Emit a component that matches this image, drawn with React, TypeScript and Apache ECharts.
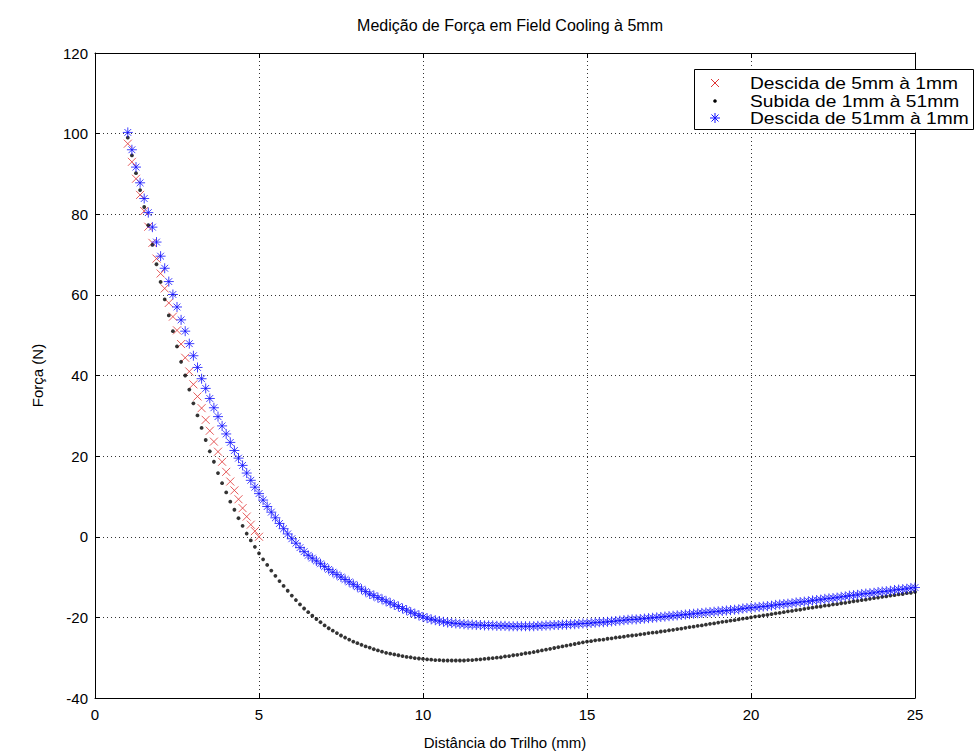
import React, { useEffect, useRef } from "react";
import * as echarts from "echarts";

// ---- Data ----
const TITLE = "Medição de Força em Field Cooling à 5mm";
const X_NAME = "Distância do Trilho (mm)";
const Y_NAME = "Força (N)";
const LEGEND_NAMES = ["Descida de 5mm à 1mm", "Subida de 1mm à 51mm", "Descida de 51mm à 1mm"];

const STEP = 0.125; // spacing of the measurements (mm)
const START = 1.0;  // first measurement position (mm)

// Descida de 5mm à 1mm : x = 1.0 .. 5.0
const redValues = [
  97.5, 93.0, 88.8, 84.8, 80.8, 76.9, 72.9, 69.0, 65.3, 61.6, 58.0, 54.6, 51.2, 47.8, 44.4, 41.0,
  37.8, 34.8, 31.9, 29.0, 26.3, 23.6, 21.1, 18.6, 16.1, 13.7, 11.5, 9.3, 7.1, 5.0, 3.0, 1.4, 0.0,
];

// Subida de 1mm à 51mm : x = 1.0 .. 25.0
const blackA = [
  99.0, 94.6, 90.2, 86.0, 81.8, 77.3, 72.4, 67.6, 63.2, 58.9, 54.9, 51.0, 47.2, 43.4, 40.0, 36.5,
  33.1, 30.1, 27.0, 24.0, 21.2, 18.6, 15.8, 13.3, 11.0, 8.7, 6.7, 4.6, 2.7, 0.8, -0.9, -2.5, -4.1,
];
const blackB = [
  -5.6, -7.0, -8.4, -9.7, -11.0, -12.2, -13.4, -14.6, -15.7, -16.8, -17.8, -18.7, -19.6, -20.4,
  -21.2, -22.0, -22.7, -23.3, -23.9, -24.5, -25.0, -25.5, -26.0, -26.4, -26.8, -27.2, -27.5, -27.9,
  -28.2, -28.5, -28.8, -29.0, -29.2, -29.4, -29.6, -29.8, -29.9, -30.1, -30.2, -30.3,
];
const blackC = [
  -30.4, -30.5, -30.6, -30.6, -30.7, -30.7, -30.7, -30.7, -30.7, -30.7, -30.6, -30.6, -30.5, -30.4,
  -30.3, -30.2, -30.1, -30.0, -29.9, -29.7, -29.6, -29.4, -29.3, -29.1, -28.9, -28.8, -28.6, -28.4,
  -28.2, -28.0, -27.8, -27.6, -27.4, -27.2, -27.0, -26.8, -26.6, -26.4, -26.2, -26.0,
];
const blackD = [
  -25.9, -25.7, -25.6, -25.5, -25.3, -25.2, -25.0, -24.9,
  -24.8, -24.6, -24.5, -24.4, -24.2, -24.1, -23.9, -23.8,
  -23.7, -23.5, -23.4, -23.2, -23.1, -22.9, -22.8, -22.6,
  -22.4, -22.3, -22.1, -22.0, -21.8, -21.6, -21.5, -21.3,
  -21.1, -21.0, -20.8, -20.7, -20.5, -20.3, -20.2, -20.0,
  -19.8, -19.7, -19.5, -19.4, -19.2, -19.0, -18.9, -18.7,
  -18.5, -18.4, -18.2, -18.1, -17.9, -17.7, -17.6, -17.4,
  -17.3, -17.1, -17.0, -16.8, -16.7, -16.5, -16.4, -16.2,
  -16.0, -15.9, -15.7, -15.6, -15.4, -15.2, -15.1, -14.9,
  -14.8, -14.6, -14.5, -14.3, -14.2, -14.0, -13.9, -13.7,
];

// Descida de 51mm à 1mm : x = 1.0 .. 25.0
const blueA = [
  100.3, 96.0, 91.7, 87.8, 83.9, 80.4, 76.8, 73.1, 69.6, 66.6, 63.3, 60.1, 57.0, 53.8, 51.0, 47.9,
  44.9, 42.0, 39.2, 36.8, 34.3, 32.0, 29.8, 27.5, 25.5, 23.4, 21.4, 19.5, 17.7, 15.8, 14.0, 12.3, 10.7,
];
const blueB = [
  9.1, 7.5, 6.1, 4.7, 3.3, 2.0, 0.7, -0.5, -1.6, -2.7, -3.7, -4.6, -5.3, -6.0, -6.7, -7.4, -8.1,
  -8.8, -9.4, -10.0, -10.6, -11.2, -11.8, -12.4, -13.0, -13.6, -14.2, -14.6, -15.1, -15.5, -16.0,
  -16.4, -16.9, -17.3, -17.8, -18.2, -18.7, -19.1, -19.5, -19.9,
];
const blueC = [
  -20.2, -20.5, -20.7, -20.9, -21.1, -21.3, -21.4, -21.5, -21.6, -21.7, -21.8, -21.8, -21.9, -21.9,
  -22.0, -22.0, -22.0, -22.1, -22.1, -22.1, -22.2, -22.2, -22.2, -22.2, -22.2, -22.2, -22.2, -22.1,
  -22.1, -22.0, -22.0, -21.9, -21.9, -21.8, -21.8, -21.7, -21.7, -21.6, -21.5, -21.5,
];
const blueD = [
  -21.4, -21.3, -21.2, -21.2, -21.1, -21.0, -20.9, -20.8,
  -20.7, -20.6, -20.5, -20.5, -20.4, -20.3, -20.2, -20.1,
  -20.0, -19.9, -19.8, -19.7, -19.6, -19.5, -19.4, -19.3,
  -19.2, -19.1, -19.0, -18.9, -18.8, -18.7, -18.6, -18.5,
  -18.4, -18.3, -18.2, -18.1, -18.0, -17.8, -17.7, -17.6,
  -17.5, -17.4, -17.3, -17.2, -17.1, -16.9, -16.8, -16.7,
  -16.6, -16.5, -16.3, -16.2, -16.1, -16.0, -15.8, -15.7,
  -15.6, -15.4, -15.3, -15.2, -15.1, -14.9, -14.8, -14.6,
  -14.5, -14.4, -14.2, -14.1, -14.0, -13.9, -13.7, -13.6,
  -13.5, -13.4, -13.2, -13.1, -13.0, -12.9, -12.7, -12.6,
];

const X_MIN = 0, X_MAX = 25, X_INT = 5;
const Y_MIN = -40, Y_MAX = 120, Y_INT = 20;

const toPairs = (vals: number[]) => vals.map((v, i) => [+(START + i * STEP).toFixed(3), v]);

const FONT = "'Liberation Sans', Arial, Helvetica, sans-serif";
const X_PATH = "path://M0,0L10,10M10,0L0,10";
const STAR_PATH = "path://M5,0L5,10M0,5L10,5M1.6,1.6L8.4,8.4M8.4,1.6L1.6,8.4";
const RED = "#e03434";
const BLUE = "#1010ff";

export default function App() {
  const ref = useRef<HTMLDivElement>(null);
  useEffect(() => {
    document.body.style.margin = "0";
    const chart = echarts.init(ref.current!, undefined, { renderer: "svg" });
    const L = 95, T = 53, R = 915, B = 701;
    const axisBase = {
      type: "value" as const,
      axisLine: { show: true, onZero: false, lineStyle: { color: "#000", width: 1 } },
      axisTick: { show: true, inside: true, length: 5, lineStyle: { color: "#000" } },
    };
    const label = { color: "#000", fontSize: 15, fontFamily: FONT };
    const split = { show: true, lineStyle: { color: "#333", type: [1, 3] as any, width: 1 } };

    const lx = 694, ly = 69, lw = 279, lh = 60;
    const mx = 715, tx = 750;
    const rows = [83, 101, 118];
    const legend: any[] = [
      { type: "rect", shape: { x: lx + 0.5, y: ly + 0.5, width: lw, height: lh }, style: { fill: "#fff", stroke: "#000", lineWidth: 1 }, z: 100 },
      { type: "line", shape: { x1: mx - 4, y1: rows[0] - 4, x2: mx + 4, y2: rows[0] + 4 }, style: { stroke: RED, lineWidth: 1 }, z: 101 },
      { type: "line", shape: { x1: mx + 4, y1: rows[0] - 4, x2: mx - 4, y2: rows[0] + 4 }, style: { stroke: RED, lineWidth: 1 }, z: 101 },
      { type: "circle", shape: { cx: mx, cy: rows[1], r: 1.8 }, style: { fill: "#000" }, z: 101 },
      { type: "line", shape: { x1: mx, y1: rows[2] - 5, x2: mx, y2: rows[2] + 5 }, style: { stroke: BLUE, lineWidth: 1 }, z: 101 },
      { type: "line", shape: { x1: mx - 5, y1: rows[2], x2: mx + 5, y2: rows[2] }, style: { stroke: BLUE, lineWidth: 1 }, z: 101 },
      { type: "line", shape: { x1: mx - 3.5, y1: rows[2] - 3.5, x2: mx + 3.5, y2: rows[2] + 3.5 }, style: { stroke: BLUE, lineWidth: 1 }, z: 101 },
      { type: "line", shape: { x1: mx + 3.5, y1: rows[2] - 3.5, x2: mx - 3.5, y2: rows[2] + 3.5 }, style: { stroke: BLUE, lineWidth: 1 }, z: 101 },
      ...LEGEND_NAMES.map((n, i) => ({
        type: "text", x: tx, y: rows[i], z: 101, scaleX: 1.13,
        style: { text: n, fill: "#000", font: `17px ${FONT}`, verticalAlign: "middle", align: "left" },
      })),
    ];

    chart.setOption({
      animation: false,
      backgroundColor: "#fff",
      title: {
        text: TITLE, left: (L + R) / 2, top: 12, textAlign: "center",
        textStyle: { fontSize: 16, fontWeight: "normal", color: "#000", fontFamily: FONT },
      },
      grid: { left: L, top: T, width: R - L, height: B - T, containLabel: false },
      xAxis: [
        {
          ...axisBase, min: X_MIN, max: X_MAX, interval: X_INT, position: "bottom",
          axisLabel: { ...label, margin: 9 }, splitLine: split,
          name: X_NAME, nameLocation: "middle", nameGap: 37, nameTextStyle: { ...label },
        },
        {
          ...axisBase, min: X_MIN, max: X_MAX, interval: X_INT, position: "top",
          axisLabel: { show: false }, splitLine: { show: false },
        },
      ],
      yAxis: [
        {
          ...axisBase, min: Y_MIN, max: Y_MAX, interval: Y_INT, position: "left",
          axisLabel: { ...label, margin: 7 }, splitLine: split,
          name: Y_NAME, nameLocation: "middle", nameGap: 50, nameTextStyle: { ...label },
        },
        {
          ...axisBase, min: Y_MIN, max: Y_MAX, interval: Y_INT, position: "right",
          axisLabel: { show: false }, splitLine: { show: false },
        },
      ],
      series: [
        {
          name: LEGEND_NAMES[0], type: "scatter", data: toPairs(redValues),
          symbol: X_PATH, symbolSize: 8,
          itemStyle: { color: "transparent", borderColor: RED, borderWidth: 1 },
          z: 2,
        },
        {
          name: LEGEND_NAMES[1], type: "scatter", data: toPairs([...blackA, ...blackB, ...blackC, ...blackD]),
          symbol: "circle", symbolSize: 3.8,
          itemStyle: { color: "#000" },
          z: 3,
        },
        {
          name: LEGEND_NAMES[2], type: "scatter", data: toPairs([...blueA, ...blueB, ...blueC, ...blueD]),
          symbol: STAR_PATH, symbolSize: 10,
          itemStyle: { color: "transparent", borderColor: BLUE, borderWidth: 1 },
          z: 4,
        },
      ],
      graphic: legend,
    });
    return () => chart.dispose();
  }, []);
  return <div ref={ref} style={{ position: "absolute", left: 0, top: 0, width: 975, height: 755 }} />;
}
